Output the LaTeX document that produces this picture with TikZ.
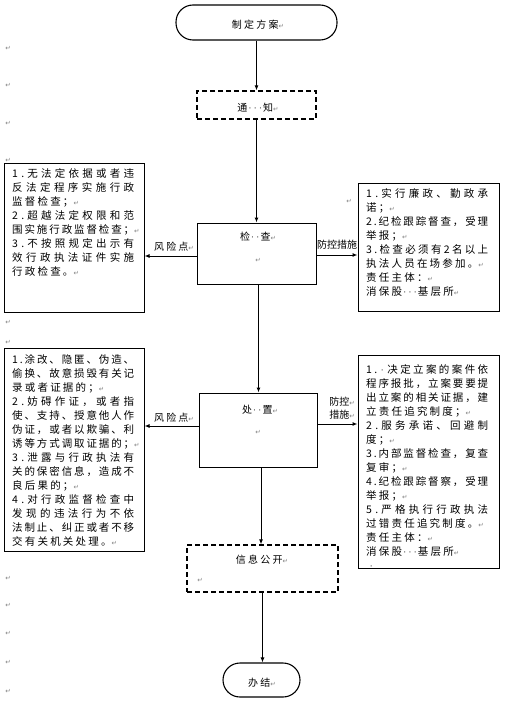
\documentclass[tikz,border=0pt]{standalone}
\usepackage{fontspec}
\setmainfont{Noto Sans CJK SC}
\newfontfamily\symf{DejaVu Sans}
\usetikzlibrary{arrows.meta}
\newcommand\pmk{{\symf\fontsize{6.5}{6.5}\selectfont\textcolor{gray}{↵}}}
\newcommand\dt{{\symf\fontsize{9}{9}\selectfont\hspace{1.2pt}\textcolor{darkgray}{·}\hspace{1.2pt}}}
\newlength\jw \setlength\jw{122pt}
\def\jlstop{jlstop-sentinel}
\def\jlfirst#1{#1\jlaux}
\def\jlaux#1{\ifx#1\jlstop\else\jsep#1\expandafter\jlaux\fi}
\newcommand\jl[1]{\makebox[\jw][s]{\def\jsep{\hfil}\jlfirst#1\jlstop}}
\newcommand\jn[1]{\mbox{\def\jsep{\hspace{2.2pt}}\jlfirst#1\jlstop}}
\begin{document}
\begin{tikzpicture}[x=1pt,y=-1pt,
 box/.style={draw=black, line width=1pt, inner sep=0pt},
 dbox/.style={draw=black, line width=1.2pt, dash pattern=on 5pt off 3pt, inner sep=0pt},
 term/.style={draw=black, line width=1.1pt, rounded corners=17pt, inner sep=0pt},
 arr/.style={line width=1pt, -{Latex[length=5pt,width=4pt]}},
 txt/.style={font=\fontsize{10.5}{14}\selectfont, align=left, inner sep=0pt, anchor=north west},
 lbl/.style={font=\fontsize{10}{13}\selectfont, inner sep=0pt, align=left},
 pm/.style={inner sep=0pt}]
\useasboundingbox (0,0) rectangle (508,706);
\fill[white] (0,0) rectangle (508,706);

% main flow
\node[term, minimum width=161pt, minimum height=35pt] (start) at (256.5,22.5) {};
\node[lbl] (startt) at (258,25) {\jn{制定方案}\pmk};
\node[dbox, minimum width=119pt, minimum height=28pt] (tz) at (256.5,105) {};
\node[lbl] (tzt) at (258,108) {通\dt\dt\dt 知\pmk};
\node[box, minimum width=119pt, minimum height=61pt] (chk) at (256.5,253.5) {};
\node[lbl] (chkt) at (258,237) {检\dt\dt 查\pmk};
\node[pm] (chkp) at (258,260) {\pmk};
\node[box, minimum width=118pt, minimum height=74pt] (cz) at (258,430) {};
\node[lbl] (czt) at (260,410) {处\dt\dt 置\pmk};
\node[pm] (czp) at (258,432) {\pmk};
\node[dbox, minimum width=151pt, minimum height=47pt] (info) at (262.5,568.5) {};
\node[lbl] (infot) at (262,560) {\jn{信息公开}\pmk};
\node[pm] (infop) at (200,580) {\pmk};
\node[term, minimum width=77pt, minimum height=34pt] (end) at (261.5,680) {};
\node[lbl] (endt) at (262,683) {\jn{办结}\pmk};

% side boxes
\node[box, minimum width=140pt, minimum height=149pt] (r1) at (74,237.5) {};
\node[txt] (r1t) at (12,168) {\jl{1.无法定依据或者违}\\
\jl{反法定程序实施行政}\\
\jn{监督检查；}\pmk\\
\jl{2.超越法定权限和范}\\
\jl{围实施行政监督检查；}\rlap{\pmk}\\
\jl{3.不按照规定出示有}\\
\jl{效行政执法证件实施}\\
\jn{行政检查。}\pmk};

\node[box, minimum width=141pt, minimum height=128pt] (p1) at (428.5,247) {};
\node[txt] (p1t) at (366,188) {\jl{1.实行廉政、勤政承}\\
\jn{诺；}\pmk\\
\jl{2.纪检跟踪督查，受理}\\
\jn{举报；}\pmk\\
\jl{3.检查必须有2名以上}\\
\jn{执法人员在场参加。}\pmk\\
\jn{责任主体：}\pmk\\
\jn{消保股}\dt\dt\dt\jn{基层所}\pmk};

\node[box, minimum width=140pt, minimum height=203pt] (r2) at (74,449.5) {};
\node[txt] (r2t) at (12,354) {\jl{1.涂改、隐匿、伪造、}\\
\jl{偷换、故意损毁有关记}\\
\jn{录或者证据的；}\pmk\\
\jl{2.妨碍作证，或者指}\\
\jl{使、支持、授意他人作}\\
\jl{伪证，或者以欺骗、利}\\
\jl{诱等方式调取证据的；}\rlap{\pmk}\\
\jl{3.泄露与行政执法有}\\
\jl{关的保密信息，造成不}\\
\jn{良后果的；}\pmk\\
\jl{4.对行政监督检查中}\\
\jl{发现的违法行为不依}\\
\jl{法制止、纠正或者不移}\\
\jn{交有关机关处理。}\pmk};

\node[box, minimum width=141pt, minimum height=213pt] (p2) at (428.5,461.5) {};
\node[txt] (p2t) at (366,364) {\jl{1.\dt 决定立案的案件依}\\
\jl{程序报批，立案要要提}\\
\jl{出立案的相关证据，建}\\
\jn{立责任追究制度；}\pmk\\
\jl{2.服务承诺、回避制}\\
\jn{度；}\pmk\\
\jl{3.内部监督检查，复查}\\
\jn{复审；}\pmk\\
\jl{4.纪检跟踪督察，受理}\\
\jn{举报；}\pmk\\
\jl{5.严格执行行政执法}\\
\jn{过错责任追究制度。}\pmk\\
\jn{责任主体：}\pmk\\
\jn{消保股}\dt\dt\dt\jn{基层所}\pmk\\
\ \dt};

% connector labels
\node[lbl] (k1) at (174,247) {\jn{风险点}\pmk};
\node[lbl] (f1) at (337,245) {防控措施};
\node[lbl] (k2) at (174,418) {\jn{风险点}\pmk};
\node[lbl] (f2) at (342,408) {防控\pmk\\措施\pmk};

% connectors
\draw[arr] (start) -- (tz);
\draw[arr] (tz) -- (chk);
\draw[arr] ([xshift=2pt]chk.south) -- ([xshift=2pt]chk.south |- cz.north);
\draw[arr] ([xshift=3pt]cz.south) -- ([xshift=3pt]cz.south |- info.north);
\draw[arr] (info.south) -- (info.south |- end.north);
\draw[arr] (chk.west |- 0,256) -- (r1.east |- 0,256);
\draw[arr] (chk.east |- 0,255) -- (p1.west |- 0,255);
\draw[arr] (cz.west |- 0,426) -- (r2.east |- 0,426);
\draw[arr] (cz.east |- 0,424) -- (p2.west |- 0,424);

% paragraph marks in the margin
\node[pm] (m1) at (8,48) {\pmk};
\node[pm] (m2) at (8,85) {\pmk};
\node[pm] (m3) at (8,123) {\pmk};
\node[pm] (m4) at (8,160) {\pmk};
\node[pm] (m5) at (8,322) {\pmk};
\node[pm] (m6) at (8,342) {\pmk};
\node[pm] (m7) at (349,201) {\pmk};
\node[pm] (m8) at (8,578) {\pmk};
\node[pm] (m9) at (8,605) {\pmk};
\node[pm] (m10) at (8,633) {\pmk};
\node[pm] (m11) at (8,662) {\pmk};
\node[pm] (m12) at (8,691) {\pmk};
\end{tikzpicture}
\end{document}
